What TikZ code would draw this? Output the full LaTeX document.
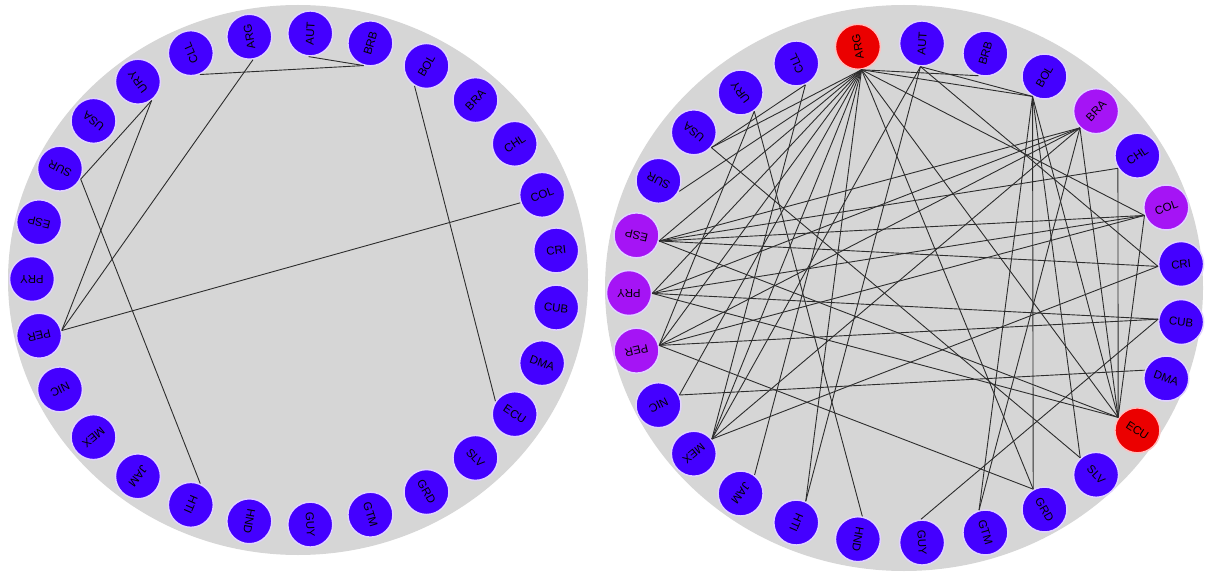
\documentclass[tikz,border=0pt]{standalone}
\usepackage{fontspec}
\setmainfont{Liberation Sans}
\definecolor{bg}{RGB}{214,214,214}
\definecolor{nb}{RGB}{68,0,255}
\definecolor{np}{RGB}{165,20,245}
\definecolor{nr}{RGB}{235,0,0}
\definecolor{ring}{RGB}{225,210,255}
\definecolor{edgec}{RGB}{45,45,45}
\tikzset{
 nd/.style={circle, minimum size=45pt, inner sep=0pt, draw=ring, line width=1.5pt, fill=nb, font=\fontsize{11.5}{11.5}\selectfont},
 pu/.style={fill=np},
 rd/.style={fill=nr, draw=red!25},
 ed/.style={draw=edgec, line width=0.9pt}
}
\begin{document}
\begin{tikzpicture}[x=1pt,y=-1pt]
\useasboundingbox (0,0) rectangle (1208,575);
\fill[bg] (298,280) ellipse [x radius=290, y radius=275];
\fill[bg] (904,288) ellipse [x radius=299, y radius=283];
\foreach \lab/\st [count=\i from 0] in {CRI/,COL/pu,CHL/,BRA/pu,BOL/,BRB/,AUT/,ARG/rd,CLL/,URY/,USA/,SUR/,ESP/pu,PRY/pu,PER/pu,NIC/,MEX/,JAM/,HTI/,HND/,GUY/,GTM/,GRD/,SLV/,ECU/rd,DMA/,CUB/}{
  \pgfmathsetmacro\a{6.6667+13.3333*\i}
  \pgfmathsetmacro\b{\a+180}
  \node[nd] (l\i) at ({295+263*cos(\a)},{279-246*sin(\a)}) {\rotatebox{\a}{\lab}};
  \coordinate (pl\i) at (l\i.\b);
  \node[nd,\st] (r\i) at ({906+277*cos(\a)},{293-250*sin(\a)}) {\rotatebox{\a}{\lab}};
  \coordinate (pr\i) at (r\i.\b);
}
\foreach \s/\t in {8/5,6/5,7/14,9/11,9/14,11/18,14/1,4/24}{
  \draw[ed] (pl\s) -- (pl\t);
}
\foreach \s/\t in {7/4,7/5,7/1,7/10,7/11,7/12,7/13,7/14,7/15,7/16,7/17,7/18,7/22,7/24,
  24/4,24/3,24/2,24/1,24/12,24/13,
  3/12,3/13,3/14,3/16,3/21,
  4/6,4/22,4/23,4/21,
  6/16,6/18,6/0,
  1/12,1/13,1/14,
  2/12,0/12,0/16,
  26/13,26/14,26/20,25/15,
  22/14,23/10,19/9,9/14,8/10,8/16}{
  \draw[ed] (pr\s) -- (pr\t);
}
\end{tikzpicture}
\end{document}
